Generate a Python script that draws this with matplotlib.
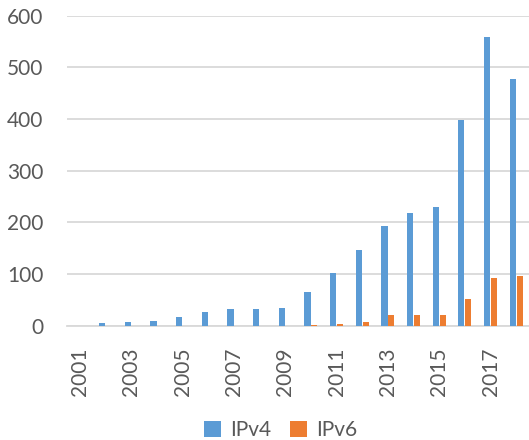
import matplotlib.pyplot as plt
import numpy as np

years = list(range(2001, 2019))
ipv4 = [0, 6, 7, 9, 16, 27, 32, 32, 34, 65, 101, 146, 193, 219, 229, 398, 559, 477]
ipv6 = [0, 0, 0, 0, 0, 0, 0, 0, 0, 2, 4, 7, 20, 21, 20, 51, 93, 96]

plt.rcParams['font.family'] = ['Lato', 'DejaVu Sans']
text_col = '#595959'

fig = plt.figure(figsize=(5.29, 4.4), dpi=100)
ax = fig.add_axes([0.127, 0.26, 0.873, 0.704])

x = np.arange(len(years))
w = 0.24
ax.bar(x - 0.135, ipv4, w, color='#5B9BD5', label='IPv4', zorder=3)
ax.bar(x + 0.135, ipv6, w, color='#ED7D31', label='IPv6', zorder=3)

ax.set_xlim(-0.5, len(years) - 0.5)
ax.set_ylim(0, 600)
ax.set_yticks(range(0, 601, 100))
ax.yaxis.grid(True, color='#D9D9D9', linewidth=1.3, zorder=0)
ax.set_xticks(x[::2])
ax.set_xticklabels([str(y) for y in years[::2]], rotation=90)

for s in ['top', 'right', 'left']:
    ax.spines[s].set_visible(False)
ax.spines['bottom'].set_color('#D9D9D9')
ax.spines['bottom'].set_linewidth(1.3)
ax.tick_params(axis='both', length=0, labelsize=15, colors=text_col)
ax.tick_params(axis='y', pad=17)
ax.tick_params(axis='x', pad=16)

leg = fig.legend(loc='center', bbox_to_anchor=(0.531, 0.023), ncol=2, frameon=False,
                 fontsize=15, handlelength=0.8, handleheight=0.8, handletextpad=0.45,
                 columnspacing=0.9)
for t in leg.get_texts():
    t.set_color(text_col)

fig.savefig('out.png', dpi=100)
